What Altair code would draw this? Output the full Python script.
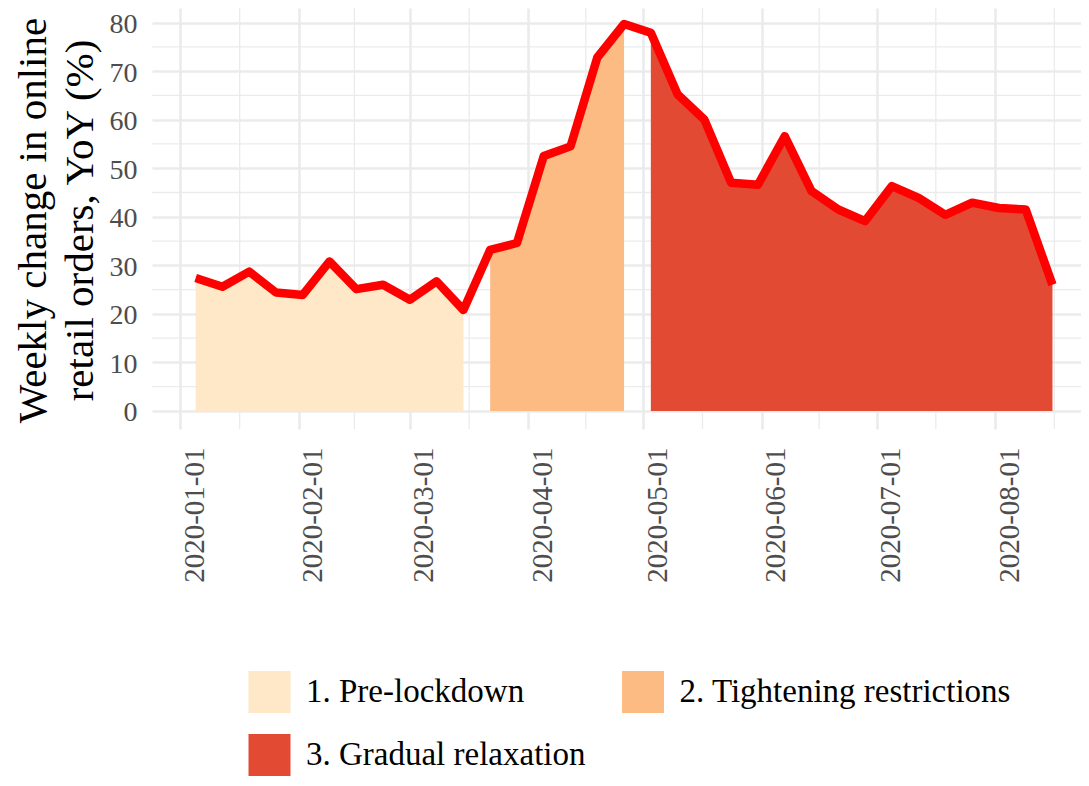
import altair as alt
import pandas as pd

# ---- data ----
weeks = [
    "2020-01-05", "2020-01-12", "2020-01-19", "2020-01-26", "2020-02-02",
    "2020-02-09", "2020-02-16", "2020-02-23", "2020-03-01", "2020-03-08",
    "2020-03-15", "2020-03-22", "2020-03-29", "2020-04-05", "2020-04-12",
    "2020-04-19", "2020-04-26", "2020-05-03", "2020-05-10", "2020-05-17",
    "2020-05-24", "2020-05-31", "2020-06-07", "2020-06-14", "2020-06-21",
    "2020-06-28", "2020-07-05", "2020-07-12", "2020-07-19", "2020-07-26",
    "2020-08-02", "2020-08-09", "2020-08-16",
]
values = [
    27.4, 25.6, 28.7, 24.4, 23.9,
    30.8, 25.1, 26.0, 22.9, 26.7,
    20.8, 33.2, 34.6, 52.5, 54.5,
    72.8, 79.7, 77.9, 65.2, 60.0,
    47.0, 46.6, 56.6, 45.3, 41.5,
    39.1, 46.3, 43.9, 40.4, 42.9,
    41.8, 41.5, 26.0,
]
phase_names = ["1. Pre-lockdown", "2. Tightening restrictions", "3. Gradual relaxation"]
phase_colors = ["#FEE8C8", "#FDBB84", "#E34A33"]
phases = [phase_names[0]] * 11 + [phase_names[1]] * 6 + [phase_names[2]] * 16

# axis ticks / grid
y_major = [0, 10, 20, 30, 40, 50, 60, 70, 80]
y_minor = [5, 15, 25, 35, 45, 55, 65, 75]
x_major_months = [1, 2, 3, 4, 5, 6, 7, 8]
x_minor = [
    "2020-01-16T12:00:00Z", "2020-02-15T12:00:00Z", "2020-03-16T12:00:00Z",
    "2020-04-16T00:00:00Z", "2020-05-16T12:00:00Z", "2020-06-16T00:00:00Z",
    "2020-07-16T12:00:00Z", "2020-08-16T12:00:00Z",
]

df = pd.DataFrame({"week": weeks, "value": values, "phase": phases})
df_ymin = pd.DataFrame({"value": y_minor})
df_xmin = pd.DataFrame({"week": x_minor})

SERIF = "Liberation Serif"
GRID = "#EBEBEB"

x_scale = alt.Scale(
    type="utc",
    domain=[
        alt.DateTime(year=2019, month=12, date=24, hours=14, utc=True),
        alt.DateTime(year=2020, month=8, date=23, hours=11, utc=True),
    ],
)
y_scale = alt.Scale(domain=[-3.71, 83.0], nice=False, zero=False)

x_axis = alt.Axis(
    values=[alt.DateTime(year=2020, month=m, date=1, utc=True) for m in x_major_months],
    format="%Y-%m-%d",
    labelAngle=270,
    labelAlign="right",
    labelBaseline="top",
    labelPadding=18,
    labelFont=SERIF,
    labelFontSize=29,
    labelColor="#4D4D4D",
    labelOverlap=False,
    labelFlush=False,
    grid=True,
    gridColor=GRID,
    gridWidth=2.6,
    ticks=False,
    tickSize=0,
    domain=False,
    title=None,
)
y_axis = alt.Axis(
    values=y_major,
    labelFont=SERIF,
    labelFontSize=28,
    labelColor="#4D4D4D",
    labelPadding=15,
    labelOffset=2,
    labelFlush=False,
    labelOverlap=False,
    grid=True,
    gridColor=GRID,
    gridWidth=2.6,
    ticks=False,
    tickSize=0,
    domain=False,
    title=["Weekly change in online", "retail orders, YoY (%)"],
    titleFont=SERIF,
    titleFontSize=41,
    titleFontWeight="normal",
    titleColor="black",
    titleAngle=270,
    titleAlign="center",
    titleBaseline="alphabetic",
    titleLineHeight=47,
    titleX=-107,
    titleY=212,
)

X = alt.X("week:T", scale=x_scale, axis=x_axis)
Y = alt.Y("value:Q", scale=y_scale, axis=y_axis, stack=None)

minor_x = alt.Chart(df_xmin).mark_rule(color=GRID, strokeWidth=1.3).encode(x=X)
minor_y = alt.Chart(df_ymin).mark_rule(color=GRID, strokeWidth=1.3).encode(y=Y)

areas = alt.Chart(df).mark_area(opacity=1).encode(
    x=X,
    y=Y,
    y2=alt.datum(0),
    color=alt.Color(
        "phase:N",
        scale=alt.Scale(domain=phase_names, range=phase_colors),
        legend=alt.Legend(
            orient="none",
            legendX=96.5,
            legendY=663,
            direction="horizontal",
            columns=2,
            title=None,
            symbolType="square",
            symbolSize=1764,
            symbolStrokeWidth=0,
            symbolOpacity=1,
            labelFont=SERIF,
            labelFontSize=33,
            labelColor="black",
            labelOffset=15.5,
            labelLimit=1000,
            rowPadding=21,
            columnPadding=36.5,
            padding=0,
        ),
    ),
)

line = alt.Chart(df).mark_line(
    color="#FF0000", strokeWidth=8.5, strokeCap="butt", strokeJoin="round"
).encode(x=X, y=Y)

chart = (
    alt.layer(minor_x, minor_y, areas, line)
    .properties(
        width=929,
        height=421,
        autosize=alt.AutoSizeParams(type="none"),
        padding={"left": 144, "top": 0, "right": 0, "bottom": 347},
    )
    .configure_view(stroke=None)
)

chart.save("out.html", embed_options={"renderer": "svg", "actions": False})
